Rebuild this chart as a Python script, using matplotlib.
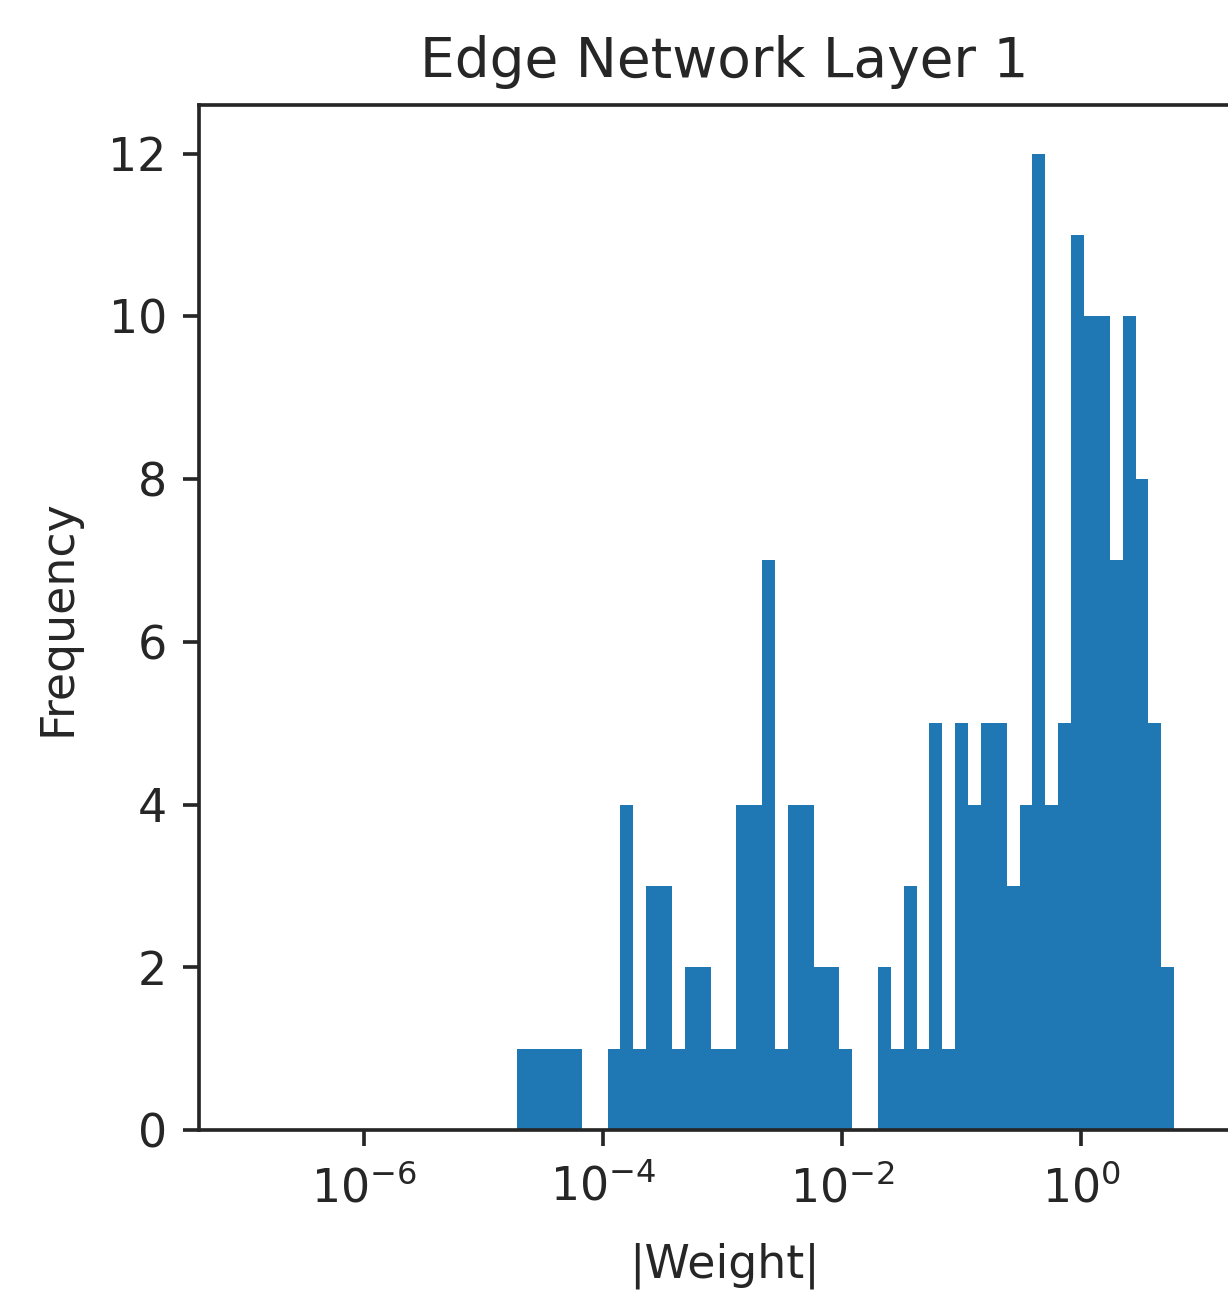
import numpy as np
import matplotlib
matplotlib.use("Agg")
import matplotlib.pyplot as plt
from matplotlib.ticker import FixedLocator, NullLocator

# |weight| histogram of the first edge-network layer, log-spaced bins
log_lo, log_hi = -4.715, 0.775
n_bins = 51
counts = [1, 1, 1, 1, 1, 0, 0, 1, 4, 1,
          3, 3, 1, 2, 2, 1, 1, 4, 4, 7,
          1, 4, 4, 2, 2, 1, 0, 0, 2, 1,
          3, 1, 5, 1, 5, 4, 5, 5, 3, 4,
          12, 4, 5, 11, 10, 10, 7, 10, 8, 5,
          2]
x_range = (10 ** -7.377, 10 ** 1.41)
x_ticks = [1e-6, 1e-4, 1e-2, 1e0]

title = "Edge Network Layer 1"
x_label = "|Weight|"
y_label = "Frequency"

dark = "#262626"
plt.rcParams.update({
    "font.family": ["DejaVu Sans"],
    "axes.edgecolor": dark,
    "text.color": dark,
    "axes.labelcolor": dark,
    "xtick.color": dark,
    "ytick.color": dark,
})

dpi = 330
fig = plt.figure(figsize=(1228 / dpi, 1293 / dpi), dpi=dpi)
# axes run off the right side of the canvas
ax = fig.add_axes([0.162, 0.126, 0.856, 0.793])

edges = np.logspace(log_lo, log_hi, n_bins + 1)
centres = np.sqrt(edges[:-1] * edges[1:])
ax.hist(centres, bins=edges, weights=counts, color="#1f77b4")

ax.set_xscale("log")
ax.set_xlim(*x_range)
ax.xaxis.set_major_locator(FixedLocator(x_ticks))
ax.xaxis.set_minor_locator(NullLocator())
ax.tick_params(axis="x", pad=4.2)

ax.set_title(title)
ax.set_xlabel(x_label, labelpad=6.8)
ax.set_ylabel(y_label, labelpad=6.2)

fig.savefig("out.png", dpi=dpi)
